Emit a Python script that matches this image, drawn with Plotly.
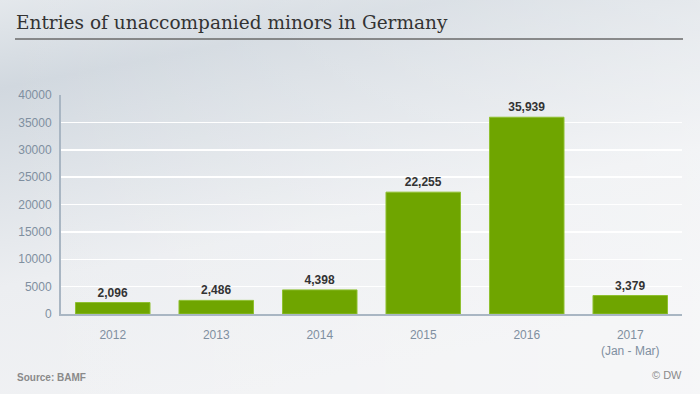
import base64
import plotly.graph_objects as go

categories = ["2012", "2013", "2014", "2015", "2016", "2017<br>(Jan - Mar)"]
values = [2096, 2486, 4398, 22255, 35939, 3379]
value_labels = ["2,096", "2,486", "4,398", "22,255", "35,939", "3,379"]
y_ticks = [0, 5000, 10000, 15000, 20000, 25000, 30000, 35000, 40000]

svg = ('<svg xmlns="http://www.w3.org/2000/svg" width="700" height="394">'
       '<defs><linearGradient id="g" x1="0" y1="0" x2="0.35" y2="1">'
       '<stop offset="0" stop-color="#e4e8ec"/>'
       '<stop offset="0.2" stop-color="#d1d8df"/>'
       '<stop offset="0.65" stop-color="#eceef1"/>'
       '<stop offset="1" stop-color="#f1f2f4"/>'
       '</linearGradient>'
       '<linearGradient id="h" x1="0" y1="0" x2="1" y2="0">'
       '<stop offset="0" stop-color="#ffffff" stop-opacity="0"/>'
       '<stop offset="1" stop-color="#ffffff" stop-opacity="0.35"/>'
       '</linearGradient></defs>'
       '<rect width="700" height="394" fill="url(#g)"/>'
       '<rect width="700" height="394" fill="url(#h)"/></svg>')
bg_uri = "data:image/svg+xml;base64," + base64.b64encode(svg.encode()).decode()

fig = go.Figure()
fig.add_trace(go.Bar(
    x=categories, y=values,
    marker=dict(color="#6fa500", line=dict(color="#8fc030", width=1)),
    text=value_labels, textposition="outside",
    textfont=dict(family="Liberation Sans, Arial", size=12, color="#333333"),
    cliponaxis=False, hoverinfo="skip",
))
fig.update_traces(texttemplate="<b>%{text}</b>")

fig.update_layout(
    width=700, height=394,
    margin=dict(l=61, r=18, t=95, b=80),
    paper_bgcolor="#eef0f2",
    plot_bgcolor="rgba(0,0,0,0)",
    bargap=0.28,
    showlegend=False,
    font=dict(family="Liberation Sans, Arial", size=12, color="#7f8fa0"),
    xaxis=dict(
        showgrid=False, showline=True, linecolor="#a9b6c3", linewidth=2,
        tickfont=dict(size=12, color="#7f8fa0"), ticks="", fixedrange=True,
        ticklabelstandoff=9,
    ),
    yaxis=dict(
        range=[0, 40000], tickvals=y_ticks, ticktext=[str(v) for v in y_ticks],
        showgrid=True, gridcolor="#ffffff", gridwidth=1.5,
        showline=True, linecolor="#a9b6c3", linewidth=2,
        zeroline=False, ticks="", ticklabelstandoff=5, fixedrange=True,
        tickfont=dict(size=12, color="#7f8fa0"),
    ),
    images=[dict(source=bg_uri, xref="paper", yref="paper", x=0, y=1,
                 sizex=1, sizey=1, layer="below", sizing="stretch")],
    shapes=[dict(type="line", xref="paper", yref="paper",
                 x0=0, x1=1, y0=1, y1=1, line=dict(width=0))],
    annotations=[
        dict(text="Entries of unaccompanied minors in Germany", xref="paper", yref="paper",
             x=0, y=1, showarrow=False, xanchor="left", yanchor="bottom",
             font=dict(family="DejaVu Serif", size=18.5, color="#333333")),
        dict(text="<b>Source: BAMF</b>", xref="paper", yref="paper", x=0, y=0,
             showarrow=False, xanchor="left", yanchor="middle",
             font=dict(size=10, color="#8a8a8a")),
        dict(text="© DW", xref="paper", yref="paper", x=1, y=0,
             showarrow=False, xanchor="right", yanchor="middle",
             font=dict(size=11, color="#8a8a8a")),
    ],
)

plot_h = 394 - 95 - 80
plot_w = 700 - 61 - 18
def px_x(px):
    return (px - 61) / plot_w
def px_y(py):
    return (394 - 80 - py) / plot_h

fig.layout.images[0].update(x=px_x(0), y=px_y(0), sizex=700 / plot_w, sizey=394 / plot_h)
fig.layout.shapes[0].update(x0=px_x(15), x1=px_x(683), y0=px_y(39), y1=px_y(39),
                            line=dict(color="#6a6a6a", width=1.5))
fig.layout.annotations[0].update(x=px_x(14), y=px_y(22), yanchor="middle")
fig.layout.annotations[1].update(x=px_x(15), y=px_y(377))
fig.layout.annotations[2].update(x=px_x(684), y=px_y(375))

fig.write_html("out.html", config={"displayModeBar": False, "staticPlot": True},
               post_script="document.body.style.margin='0';document.body.style.overflow='hidden';")
